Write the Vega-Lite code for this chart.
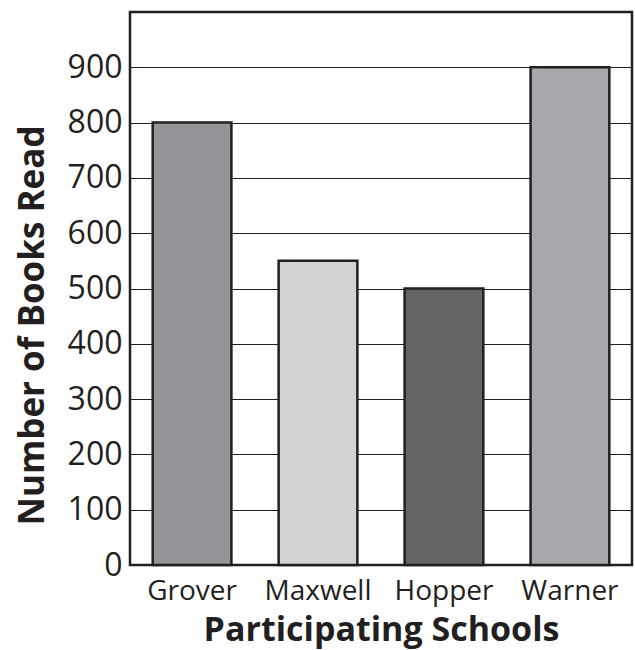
{
  "$schema": "https://vega.github.io/schema/vega-lite/v6.json",
  "autosize": {"type": "none"},
  "padding": {"left": 130, "top": 12, "right": 3, "bottom": 85},
  "width": 502,
  "height": 553,
  "background": "white",
  "config": {
    "font": "Open Sans",
    "view": {"stroke": "#231f20", "strokeWidth": 2.5}
  },
  "data": {
    "values": [
      {"school": "Grover", "books": 800},
      {"school": "Maxwell", "books": 550},
      {"school": "Hopper", "books": 500},
      {"school": "Warner", "books": 900}
    ]
  },
  "mark": {"type": "bar", "stroke": "#231f20", "strokeWidth": 2.5},
  "encoding": {
    "x": {
      "field": "school",
      "type": "nominal",
      "sort": null,
      "scale": {"paddingInner": 0.375, "paddingOuter": 0.18},
      "axis": {
        "title": "Participating Schools",
        "titleFontSize": 34,
        "titleFontWeight": "bold",
        "titleColor": "#231f20",
        "titleY": 75,
        "titleBaseline": "alphabetic",
        "labelAngle": 0,
        "labelFontSize": 28,
        "labelColor": "#231f20",
        "labelBaseline": "alphabetic",
        "labelPadding": 34,
        "labelOverlap": false,
        "ticks": false,
        "domain": false
      }
    },
    "y": {
      "field": "books",
      "type": "quantitative",
      "scale": {"domain": [0, 1000], "nice": false},
      "axis": {
        "title": "Number of Books Read",
        "titleFontSize": 35,
        "titleFontWeight": "bold",
        "titleColor": "#231f20",
        "titleX": -87,
        "titleY": 313,
        "titleBaseline": "alphabetic",
        "values": [0, 100, 200, 300, 400, 500, 600, 700, 800, 900],
        "labelFontSize": 32,
        "labelColor": "#231f20",
        "labelPadding": 8,
        "ticks": false,
        "domain": false,
        "grid": true,
        "gridColor": "#231f20",
        "gridWidth": 1.2,
        "gridOpacity": 1
      }
    },
    "color": {
      "field": "school",
      "type": "nominal",
      "scale": {
        "domain": ["Grover", "Maxwell", "Hopper", "Warner"],
        "range": ["#939598", "#d1d3d4", "#636466", "#a7a9ac"]
      },
      "legend": null
    }
  }
}
